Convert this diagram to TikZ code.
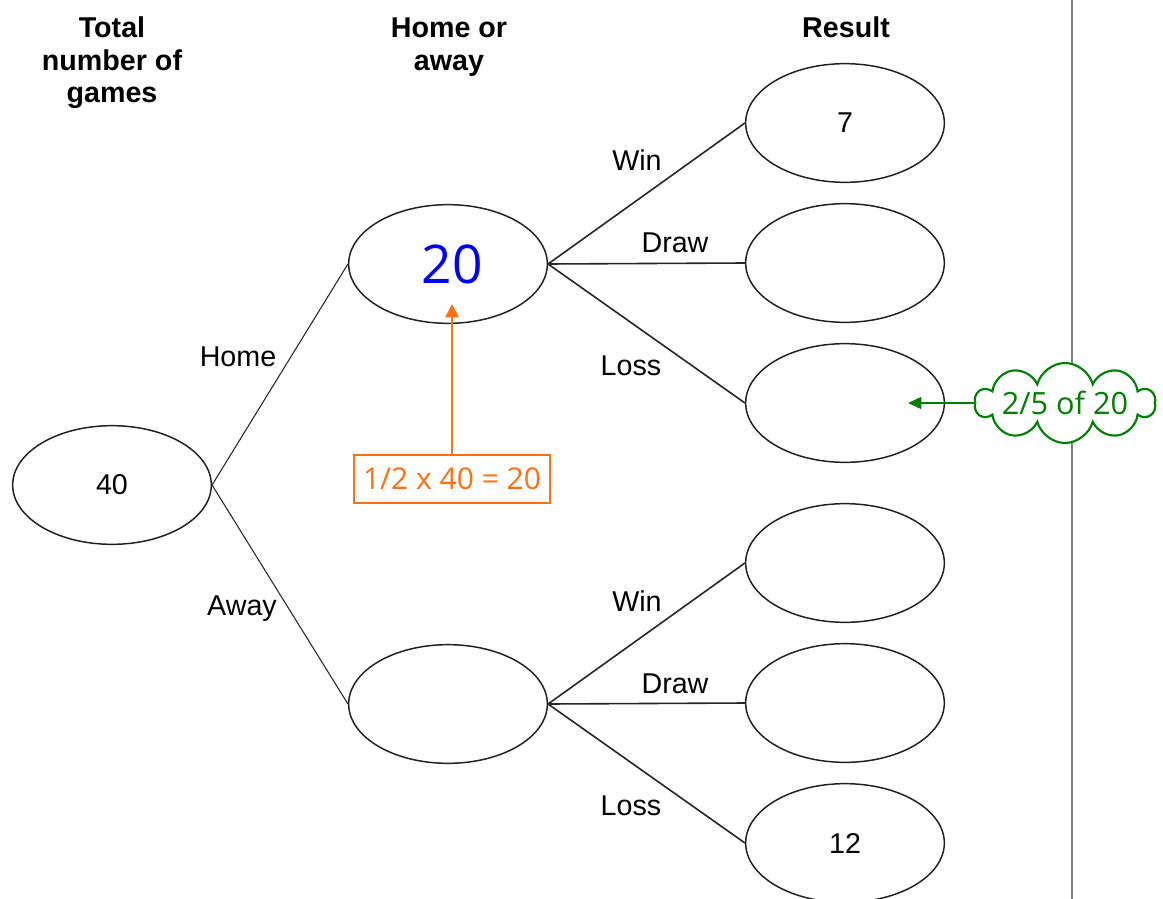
\documentclass[tikz,border=0pt]{standalone}
\usepackage{fontspec}
\setmainfont{Liberation Sans}
\newfontfamily\notefont{Open Sans}
\definecolor{noteorange}{RGB}{255,112,16}
\definecolor{notegreen}{RGB}{0,128,0}
\definecolor{inkblue}{RGB}{0,0,255}
\usetikzlibrary{arrows.meta,positioning}
\usetikzlibrary{shapes.geometric,shapes.symbols}

\begin{document}
\begin{tikzpicture}[x=0.75pt,y=0.75pt,yscale=-1,xscale=1,
	every node/.style={font=\fontsize{21.5}{24.4}\selectfont},
	count/.style={draw=black!88, ellipse, line width=1.1pt, minimum width=149pt, minimum height=89pt, inner sep=0pt},
	head/.style={font=\bfseries\fontsize{21.5}{24.4}\selectfont, align=center},
	firstbranch/.style={draw=black!85, line width=0.8pt},
	secondbranch/.style={draw=black!85, line width=1.2pt},
	orangenote/.style={draw=noteorange, line width=1.5pt, text=noteorange, font=\notefont\fontsize{22.5}{26}\selectfont, minimum width=147pt, minimum height=36pt, inner sep=2pt},
	greennote/.style={cloud, cloud puffs=10, cloud ignores aspect, draw=notegreen, fill=white, line width=1.6pt, text=notegreen, font=\notefont\fontsize{23}{26}\selectfont, minimum width=135pt, minimum height=60pt, inner sep=0pt},
	]
	\useasboundingbox (0,0) rectangle (1163,899);
	
	%Straight Lines: page margin
	\draw [color={rgb, 255:red, 128; green, 128; blue, 128 }][line width=1.5pt] (1072,0) -- (1072,899) ;
	
	% Headings
	\node [head] (totalhead) at (112,63) {Total\\number of\\games};
	\node [head] (venuehead) at (449,47) {Home or\\away};
	\node [head] (resulthead) at (846,27) {Result};
	
	% Ellipses
	\node [count] (total) at (112,485) {40};
	\node [count] (home) at (448,264) {};
	\node [count] (away) at (448,704) {};
	\node [count] (homewin) at (845,123) {7};
	\node [count] (homedraw) at (845,263) {};
	\node [count] (homeloss) at (845,403) {};
	\node [count] (awaywin) at (845,563) {};
	\node [count] (awaydraw) at (845,703) {};
	\node [count] (awayloss) at (845,843) {12};
	
	% Branches
	\draw [firstbranch] (total.east) -- (home.west) ;
	\draw [firstbranch] (total.east) -- (away.west) ;
	\draw [secondbranch] (home.east) -- (homewin.west) ;
	\draw [secondbranch] (home.east) -- (homedraw.west) ;
	\draw [secondbranch] (home.east) -- (homeloss.west) ;
	\draw [secondbranch] (away.east) -- (awaywin.west) ;
	\draw [secondbranch] (away.east) -- (awaydraw.west) ;
	\draw [secondbranch] (away.east) -- (awayloss.west) ;
	
	% Text Node
	\node (homelabel) at (238,357) {Home};
	\node (awaylabel) at (242,609) {Away};
	\node (homewinlabel) at (637,160) {Win};
	\node (homedrawlabel) at (675,243) {Draw};
	\node (homelosslabel) at (631,366) {Loss};
	\node (awaywinlabel) at (637,601) {Win};
	\node (awaydrawlabel) at (675,684) {Draw};
	\node (awaylosslabel) at (631,806) {Loss};
	
	% Handwritten answer
	\node [text=inkblue, font=\notefont\fontsize{40}{44}\selectfont] (homeanswer) at (452,264) {20};
	
	% Orange working box and arrow
	\node [orangenote] (calcbox) at (452,479) {1/2 x 40 = 20};
	\coordinate (calctip) at (452,304);
	\draw [noteorange, line width=1.2pt, -{Triangle[length=10pt,width=10pt]}] (calcbox.north) -- (calctip) ;
	
	% Green cloud and arrow
	\node [greennote] (cloudnote) at (1065,403) {2/5 of 20};
	\coordinate (cloudtip) at (908,403);
	\draw [notegreen, line width=1.2pt, -{Triangle[length=10pt,width=9pt]}] (cloudnote.west) -- (cloudnote.west -| cloudtip) ;
	
\end{tikzpicture}
\end{document}
